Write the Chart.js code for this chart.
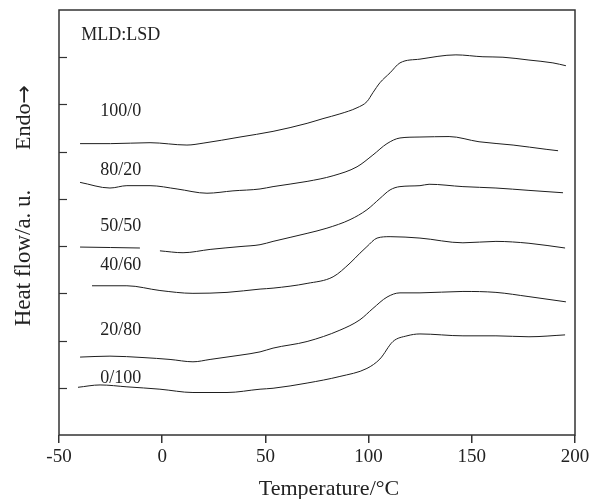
<!DOCTYPE html>
<html>
<head>
<meta charset="utf-8">
<script src="https://cdn.jsdelivr.net/npm/chart.js@4.4.1/dist/chart.umd.min.js"></script>
<style>
  html, body { margin: 0; padding: 0; background: #fff; }
</style>
</head>
<body>
<canvas id="dscChart" width="596" height="499"></canvas>
<script>
// Temperature (°C) and heat flow (a.u., curves stacked)
const t100_0  = [-39.8, -25, -5.9, 12.0, 19.8, 37.7, 53.7, 70.2, 77.9, 86.1, 94.4, 99.2, 102.1, 105.5, 110.4, 115.2, 124.9, 142.3, 155.4, 165.1, 177.7, 189.3, 195.6];
const hf100_0 = [6.17, 6.17, 6.19, 6.14, 6.18, 6.31, 6.43, 6.60, 6.70, 6.80, 6.93, 7.06, 7.25, 7.46, 7.67, 7.88, 7.96, 8.05, 8.01, 8.00, 7.94, 7.88, 7.82];

const t80_20  = [-39.8, -25.3, -17.1, -5.9, 7.2, 21.7, 34.3, 47.4, 53.7, 70.2, 82.8, 94.4, 102.1, 108.9, 115.2, 124.9, 139.0, 153.5, 170.0, 186.0, 191.8];
const hf80_20 = [5.35, 5.23, 5.28, 5.28, 5.21, 5.12, 5.17, 5.21, 5.26, 5.37, 5.49, 5.68, 5.93, 6.17, 6.29, 6.31, 6.32, 6.21, 6.14, 6.05, 6.02];

const t50_50  = [-39.8, -25, -10.8, -6, -1.1, 10.1, 23.2, 37.7, 47.4, 53.7, 70.2, 79.8, 91.0, 99.2, 105.5, 110.4, 115.2, 124.9, 129.3, 145.7, 161.7, 177.7, 194.2];
const hf50_50 = [3.98, 3.97, 3.96, null, 3.90, 3.86, 3.93, 3.99, 4.03, 4.10, 4.27, 4.38, 4.56, 4.77, 5.01, 5.19, 5.26, 5.28, 5.31, 5.26, 5.23, 5.18, 5.13];

const t40_60  = [-34.0, -17.1, -1.1, 14.9, 31.4, 47.4, 53.7, 70.2, 82.8, 91.0, 95.8, 99.2, 104.1, 110.4, 124.9, 145.7, 161.7, 177.7, 195.2];
const hf40_60 = [3.16, 3.16, 3.06, 3.00, 3.02, 3.09, 3.11, 3.21, 3.35, 3.64, 3.85, 3.99, 4.17, 4.20, 4.17, 4.07, 4.10, 4.06, 3.96];

const t20_80  = [-39.8, -25.3, -9.3, 3.8, 14.9, 23.2, 37.7, 47.4, 53.7, 70.2, 86.1, 95.8, 102.1, 108.9, 115.2, 124.9, 145.7, 161.7, 177.7, 195.6];
const hf20_80 = [1.65, 1.67, 1.64, 1.60, 1.55, 1.60, 1.69, 1.76, 1.84, 1.98, 2.22, 2.44, 2.68, 2.92, 3.01, 3.01, 3.04, 3.02, 2.93, 2.82];

const t0_100  = [-40.8, -30.1, -17.1, -1.1, 14.9, 31.4, 47.4, 53.7, 70.2, 86.1, 99.2, 105.5, 111.8, 118.6, 124.9, 145.7, 161.7, 177.7, 195.2];
const hf0_100 = [1.01, 1.06, 1.02, 0.97, 0.90, 0.90, 0.97, 0.99, 1.10, 1.24, 1.41, 1.61, 1.98, 2.10, 2.14, 2.10, 2.10, 2.08, 2.12];

const curveNames = ['100/0', '80/20', '50/50', '40/60', '20/80', '0/100'];
const curveTemps = [t100_0, t80_20, t50_50, t40_60, t20_80, t0_100];
const curveFlows = [hf100_0, hf80_20, hf50_50, hf40_60, hf20_80, hf0_100];

// where each composition label sits (data units)
const labelTemp = -30.0;
const labelFlow = [6.86, 5.61, 4.43, 3.60, 2.22, 1.21];
const legendTitle = 'MLD:LSD';

const xMin = -50, xMax = 200, xStep = 50;
const yMin = 0, yMax = 9;

const datasets = curveNames.map((name, i) => ({
    label: name,
    data: curveTemps[i].map((t, k) => ({ x: t, y: curveFlows[i][k] })),
    borderColor: '#1e1e1e',
    borderWidth: 1,
    pointRadius: 0,
    cubicInterpolationMode: 'monotone',
    spanGaps: false,
    fill: false
}));

// frame, inward y ticks, labels and axis titles
const decorPlugin = {
    id: 'decor',
    afterDraw(chart) {
        const { ctx, chartArea: a, scales: { x, y } } = chart;
        ctx.save();
        ctx.strokeStyle = '#333';
        ctx.lineWidth = 1.5;
        ctx.strokeRect(a.left, a.top, a.right - a.left, a.bottom - a.top);

        ctx.lineWidth = 1.2;
        for (let v = yMin + 1; v < yMax; v++) {
            const py = Math.round(y.getPixelForValue(v)) + 0.5;
            ctx.beginPath();
            ctx.moveTo(a.left, py);
            ctx.lineTo(a.left + 8, py);
            ctx.stroke();
        }

        ctx.fillStyle = '#222';
        ctx.textAlign = 'left';
        ctx.textBaseline = 'middle';
        ctx.font = '18px "Liberation Serif"';
        ctx.fillText(legendTitle, x.getPixelForValue(-39.2), y.getPixelForValue(8.47));
        curveNames.forEach((name, i) => {
            ctx.fillText(name, x.getPixelForValue(labelTemp), y.getPixelForValue(labelFlow[i]));
        });

        ctx.textAlign = 'center';
        ctx.font = '22px "Liberation Serif"';
        ctx.fillText('Temperature/°C', 329, 489);

        // rotated y title: "Heat flow/a. u.   Endo→"
        ctx.translate(24, 0);
        ctx.rotate(-Math.PI / 2);
        ctx.font = '23px "Liberation Serif"';
        ctx.fillText('Heat flow/a. u.', -258, 0);
        ctx.textAlign = 'left';
        ctx.font = '22px "Liberation Serif"';
        ctx.fillText('Endo', -150, 0);
        const endoW = ctx.measureText('Endo').width;
        ctx.font = '22px "DejaVu Sans"';
        ctx.fillText('\u2192', -150 + endoW, 1);
        ctx.restore();
    }
};

new Chart(document.getElementById('dscChart').getContext('2d'), {
    type: 'line',
    data: { datasets },
    options: {
        responsive: false,
        devicePixelRatio: 1,
        animation: false,
        layout: { padding: { left: 0, right: 21, top: 10, bottom: 0 } },
        plugins: {
            legend: { display: false },
            tooltip: { enabled: false }
        },
        scales: {
            x: {
                type: 'linear',
                min: xMin,
                max: xMax,
                afterFit: scale => { scale.height = 64; },
                border: { display: false },
                grid: {
                    drawOnChartArea: false,
                    drawTicks: true,
                    tickLength: 8,
                    color: '#333',
                    lineWidth: 1.5
                },
                ticks: {
                    stepSize: xStep,
                    color: '#222',
                    padding: 3,
                    maxRotation: 0,
                    font: { family: 'Liberation Serif', size: 19 }
                }
            },
            y: {
                type: 'linear',
                min: yMin,
                max: yMax,
                afterFit: scale => { scale.width = 59; },
                border: { display: false },
                grid: { display: false },
                ticks: { display: false }
            }
        }
    },
    plugins: [decorPlugin]
});
</script>
</body>
</html>
